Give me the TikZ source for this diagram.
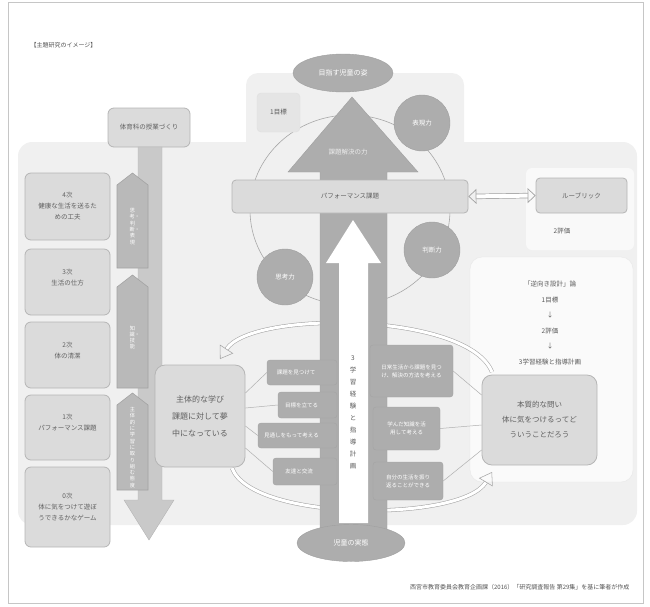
\documentclass[tikz,border=0pt]{standalone}
\usepackage{fontspec}
\newfontfamily\jp{Noto Sans CJK JP}
\XeTeXlinebreaklocale "ja"
\usetikzlibrary{arrows.meta,shapes.geometric}
\begin{document}
\begin{tikzpicture}[x=1pt,y=-1pt,font=\jp,
    panel/.style={fill=gray!12},
    lbox/.style={draw=gray!58,fill=gray!28,rounded corners=6pt,line width=0.8pt,align=center,
      inner sep=1pt,text=gray!75!black,font=\jp\fontsize{6.5}{11}\selectfont},
    dbox/.style={draw=gray!72,fill=gray!64,rounded corners=3pt,align=center,inner sep=1pt,
      text=white,font=\jp\fontsize{5.5}{8}\selectfont},
    ball/.style={circle,draw=gray!75,fill=gray!64,minimum size=56pt,inner sep=0pt,
      text=white,font=\jp\fontsize{6.5}{7}\selectfont},
    oval/.style={ellipse,draw=gray!75,fill=gray!64,inner sep=0pt,text=white,
      font=\jp\fontsize{7}{8}\selectfont},
    penta/.style={fill=gray!55,draw=gray!72,line width=0.6pt},
    tate/.style={text width=6pt,align=center,inner sep=0pt,font=\jp\fontsize{5.2}{6.3}\selectfont},
    loopline/.style={draw=gray!70,double=white,double distance=3pt,line width=0.55pt},
    link/.style={draw=gray!62,line width=0.5pt}]
\useasboundingbox (0,0) rectangle (650,606);
\draw[gray!45,line width=0.6pt] (8,2) rectangle (643,603);
\node[anchor=west,text=gray!65!black,font=\jp\fontsize{6}{7}\selectfont] (title) at (27,45) {【主題研究のイメージ】};

% background panels
\fill[panel,rounded corners=14pt] (18,142) rectangle (637,525);
\fill[panel,rounded corners=12pt] (246,73) rectangle (464,300);
\fill[gray!5,rounded corners=6pt] (526,168) rectangle (634,250);
\fill[gray!4,draw=gray!18,rounded corners=12pt] (470,257) rectangle (633,482);

% ring through the three abilities
\draw[gray!68,line width=0.6pt] (350,210) ellipse [x radius=100pt,y radius=95pt];

% left: unit flow
\node[lbox,minimum width=82pt,minimum height=39pt] (plan) at (149,127.5) {体育科の授業づくり};
\fill[gray!42,draw=gray!58] (138,147) -- (162,147) -- (162,500) -- (174,500) -- (149,540)
  -- (124,500) -- (138,500) -- cycle;
\foreach \top/\bot/\txt in {173/268/思考・判断・表現, 275/388/知識・技能, 393/490/主体的に学習に取り組む態度} {
  \draw[penta] (117,\top+12) -- (132.5,\top) -- (148,\top+12) -- (148,\bot) -- (117,\bot) -- cycle;
  \node[tate,text=white] at (132.5,{(\top+\bot)/2+6}) {\txt};
}
\node[lbox,minimum width=85pt,minimum height=67pt] (s4) at (67.5,206.5) {4次\\健康な生活を送るた\\めの工夫};
\node[lbox,minimum width=85pt,minimum height=66pt] (s3) at (67.5,282) {3次\\生活の仕方\\[-4pt]\strut};
\node[lbox,minimum width=85pt,minimum height=66pt] (s2) at (67.5,355) {2次\\体の清潔\\[-4pt]\strut};
\node[lbox,minimum width=85pt,minimum height=65pt] (s1) at (67.5,427.5) {1次\\パフォーマンス課題\\[-4pt]\strut};
\node[lbox,minimum width=85pt,minimum height=80pt] (s0) at (67.5,507) {0次\\体に気をつけて遊ぼ\\うできるかなゲーム};

% cycle between the two questions
\draw[loopline,-{Triangle[open,length=12pt,width=16pt]}] (492,372) .. controls (468,312) and (252,310) .. (220,359);
\draw[loopline,-{Triangle[open,length=12pt,width=16pt]}] (232,468) .. controls (252,522) and (462,522) .. (492,472);

% central arrow
\draw[fill=gray!64,draw=gray!75] (352,97) -- (418,172) -- (387,172) -- (387,535) -- (320,535)
  -- (320,172) -- (288,172) -- cycle;
\fill[white] (353,220) -- (381,263) -- (368,263) -- (368,523) -- (339,523) -- (339,263)
  -- (326,263) -- cycle;
\node[text=gray!15,font=\jp\fontsize{6.5}{7}\selectfont] (power) at (348,152) {課題解決の力};
\node[tate,text=gray!70!black,font=\jp\fontsize{6.5}{12}\selectfont,text width=7pt] (steps) at (353,412) {3学習経験と指導計画};
\node[oval,minimum width=100pt,minimum height=38pt] (goal) at (343,73) {目指す児童の姿};
\node[oval,minimum width=108pt,minimum height=37pt] (child) at (351,543) {児童の実態};
\node[draw=gray!25,fill=gray!20,rounded corners=4pt,minimum width=43pt,minimum height=39pt,
  font=\jp\fontsize{6.5}{7}\selectfont,text=gray!70!black] (aim) at (278.5,112.5) {1目標};

% performance task and rubric
\node[lbox,rounded corners=4pt,minimum width=236pt,minimum height=33pt] (task) at (350,196.5) {パフォーマンス課題};
\node[lbox,rounded corners=4pt,minimum width=91pt,minimum height=35pt] (rubric) at (581.5,195.5) {ルーブリック};
\node[text=gray!70!black,font=\jp\fontsize{6.5}{7}\selectfont] (eval) at (562,231) {2評価};
\draw[draw=gray!72,double=white,double distance=4pt,line width=0.7pt,
  {Triangle[open,length=8pt,width=15pt]}-{Triangle[open,length=8pt,width=15pt]}] (task.east) -- (rubric.west);

% abilities
\node[ball] (express) at (422,123) {表現力};
\node[ball] (judge) at (432,250) {判断力};
\node[ball] (think) at (285,277) {思考力};

% backward design
\node[align=center,text=gray!70!black,font=\jp\fontsize{6.5}{15.5}\selectfont] (design) at (550,323)
  {「逆向き設計」論\\1目標\\↓\\2評価\\↓\\3学習経験と指導計画};

% the two questions
\node[lbox,minimum width=90pt,minimum height=102pt,rounded corners=10pt,font=\jp\fontsize{8}{17}\selectfont] (shutai) at (200,416)
  {主体的な学び\\課題に対して夢\\中になっている};
\node[lbox,minimum width=115pt,minimum height=90pt,rounded corners=10pt,font=\jp\fontsize{7.5}{15}\selectfont] (honshitsu) at (539.5,420)
  {本質的な問い\\体に気をつけるってど\\ういうことだろう};

% learning activities
\node[dbox,minimum width=70pt,minimum height=25pt] (l1) at (302,372.5) {課題を見つけて\hspace{12pt}};
\node[dbox,minimum width=59pt,minimum height=26pt] (l2) at (307.5,405) {目標を立てる\hspace{12pt}};
\node[dbox,minimum width=79pt,minimum height=25pt] (l3) at (297.5,435.5) {見通しをもって考える\hspace{12pt}};
\node[dbox,minimum width=64pt,minimum height=27pt] (l4) at (305,471.5) {友達と交流\hspace{12pt}};
\node[dbox,minimum width=83pt,minimum height=52pt,text width=76pt] (r1) at (411.5,371) {日常生活から課題を見つけ、解決の方法を考える};
\node[dbox,minimum width=67pt,minimum height=43pt,text width=60pt] (r2) at (406.5,428.5) {学んだ知識を活用して考える};
\node[dbox,minimum width=70pt,minimum height=38pt,text width=63pt] (r3) at (408,481) {自分の生活を振り返ることができる};
\draw[link] ([yshift=23pt]shutai.east) -- (l1.west);
\draw[link] ([yshift=8pt]shutai.east) -- (l2.west);
\draw[link] ([yshift=-10pt]shutai.east) -- (l3.west);
\draw[link] ([yshift=-32pt]shutai.east) -- (l4.west);
\draw[link] ([yshift=25pt]honshitsu.west) -- (r1.east);
\draw[link] ([yshift=-5pt]honshitsu.west) -- (r2.east);
\draw[link] ([yshift=-30pt]honshitsu.west) -- (r3.east);

% source
\node[anchor=east,text=gray!65!black,font=\jp\fontsize{6}{7}\selectfont] (source) at (633,587)
  {西宮市教育委員会教育企画課（2016）「研究調査報告 第29集」を基に筆者が作成};
\end{tikzpicture}
\end{document}
